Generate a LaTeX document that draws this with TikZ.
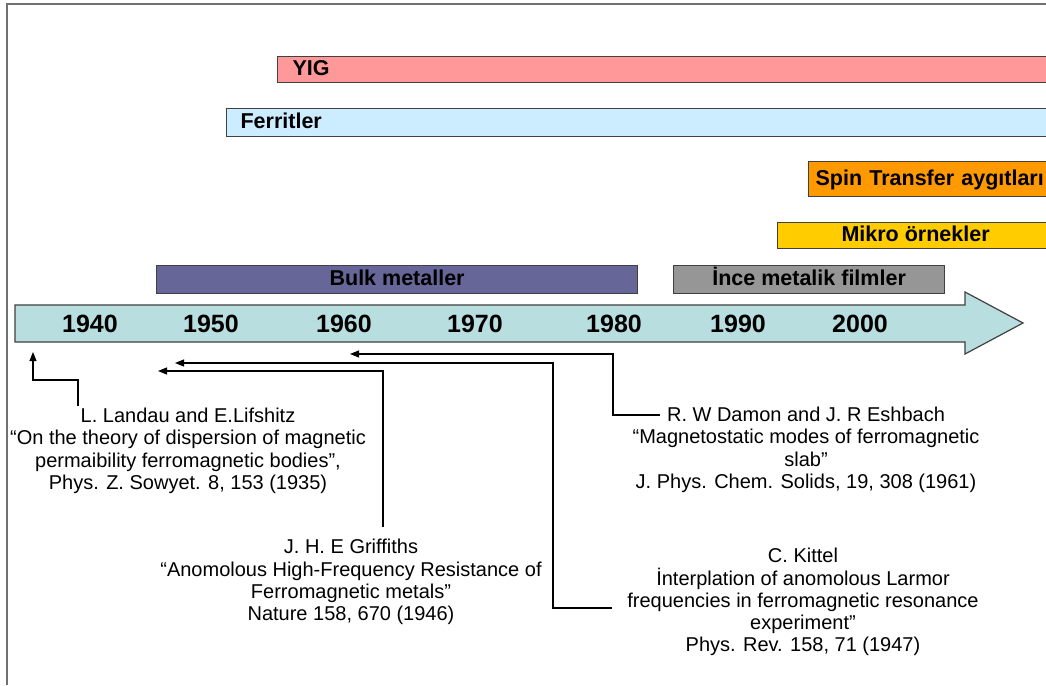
\documentclass[tikz,border=0pt]{standalone}
\usepackage{fontspec}
\setmainfont{Liberation Sans}
\usetikzlibrary{arrows.meta}
\definecolor{yigfill}{HTML}{FF9999}
\definecolor{ferfill}{HTML}{CCECFF}
\definecolor{spinfill}{HTML}{FF9900}
\definecolor{mikrofill}{HTML}{FFCC00}
\definecolor{bulkfill}{HTML}{666699}
\definecolor{incefill}{HTML}{969696}
\definecolor{axisfill}{HTML}{B8DEE0}
\definecolor{edgegray}{HTML}{404040}
\definecolor{framegray}{HTML}{707070}
\begin{document}
\begin{tikzpicture}[x=1pt,y=-1pt,
  bar/.style={draw=edgegray, line width=1.2pt, anchor=north west, inner sep=0pt,
    font=\fontsize{21.5}{25}\selectfont\bfseries, text height=1.1em, text depth=0pt},
  year/.style={font=\fontsize{25}{29}\selectfont\bfseries, inner sep=0pt},
  ref/.style={font=\fontsize{20}{22.3}\selectfont, align=center, inner sep=0pt, anchor=north},
  conn/.style={line width=1.1pt, -{Triangle[length=9pt,width=7pt]}}
]
\useasboundingbox (0,0) rectangle (1046,685);
\fill[white] (0,0) rectangle (1046,685);
% page frame
\draw[framegray, line width=2pt] (7,685) -- (7,4) -- (1046,4);

% research-period bars
\node[bar, fill=yigfill, minimum width=790, minimum height=26, text width=760, align=left] (yig) at (277,56) {YIG};
\node[bar, fill=ferfill, minimum width=830, minimum height=28, text width=802, align=left] (fer) at (226,108) {Ferritler};
\node[bar, fill=spinfill, minimum width=250, minimum height=35, text width=236, align=left, text height=1.25em] (spin) at (808,161) {Spin Transfer aygıtları};
\node[bar, fill=mikrofill, minimum width=276, minimum height=26] (mikro) at (777,222) {Mikro örnekler};
\node[bar, fill=bulkfill, minimum width=481, minimum height=28] (bulk) at (156,265) {Bulk metaller};
\node[bar, fill=incefill, minimum width=271, minimum height=28] (ince) at (673,265) {İnce metalik filmler};

% time axis
\draw[edgegray, line width=1.2pt, fill=axisfill]
  (15,305) -- (965,305) -- (965,292) -- (1023,323) -- (965,354) -- (965,342) -- (15,342) -- cycle;
\node[year] (y40) at (90,324) {1940};
\node[year] (y50) at (211,324) {1950};
\node[year] (y60) at (344,324) {1960};
\node[year] (y70) at (475,324) {1970};
\node[year] (y80) at (614,324) {1980};
\node[year] (y90) at (738,324) {1990};
\node[year] (y00) at (860,324) {2000};

% references
\node[ref] (landau) at (188,408) {L. Landau and E.Lifshitz\\“On the theory of dispersion of magnetic\\permaibility ferromagnetic bodies”,\\Phys. Z. Sowyet. 8, 153 (1935)};
\node[ref] (griff) at (351,539) {J. H. E Griffiths\\“Anomolous High-Frequency Resistance of\\Ferromagnetic metals”\\Nature 158, 670 (1946)};
\node[ref] (damon) at (806,407) {R. W Damon and J. R Eshbach\\“Magnetostatic modes of ferromagnetic\\slab”\\J. Phys. Chem. Solids, 19, 308 (1961)};
\node[ref] (kittel) at (803,548) {C. Kittel\\İnterplation of anomolous Larmor\\frequencies in ferromagnetic resonance\\experiment”\\Phys. Rev. 158, 71 (1947)};

% connectors from each reference to its year on the axis
\coordinate (lfoot) at (78,406);
\coordinate (ltip) at (33,352);
\coordinate (gfoot) at (383,527);
\coordinate (gtip) at (158,371);
\coordinate (kfoot) at (612,608);
\coordinate (ktip) at (175,363);
\coordinate (dfoot) at (660,415);
\coordinate (dtip) at (350,354);
\draw[conn] (lfoot) -- ++(0,-26) -| (ltip);
\draw[conn] (gfoot) |- (gtip);
\draw[conn] (kfoot) -- ++(-59,0) |- (ktip);
\draw[conn] (dfoot) -- ++(-47,0) |- (dtip);
\end{tikzpicture}
\end{document}
